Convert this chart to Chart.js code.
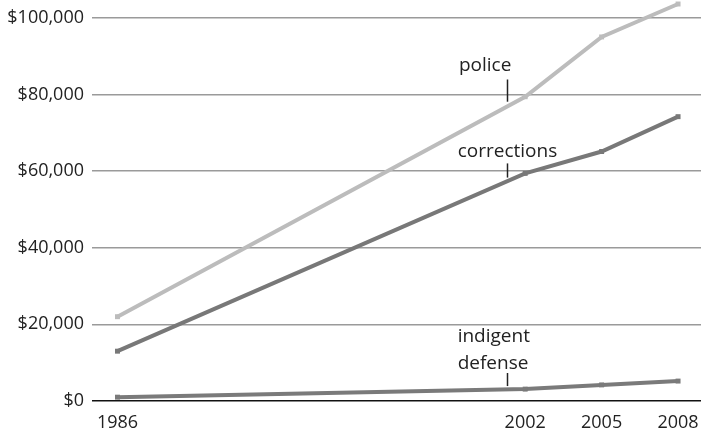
<!DOCTYPE html>
<html>
<head>
<meta charset="utf-8">
<script src="https://cdn.jsdelivr.net/npm/chart.js@4"></script>
<style>
  html, body { margin: 0; padding: 0; background: #fff; }
  #wrap { width: 705px; height: 436px; }
</style>
</head>
<body>
<div id="wrap"><canvas id="c" width="705" height="436"></canvas></div>
<script>
const years = [1986, 2002, 2005, 2008];
const police = [22000, 79400, 95000, 103600];
const corrections = [13000, 59400, 65100, 74200];
const indigentDefense = [1000, 3100, 4200, 5200];
const yTicks = [0, 20000, 40000, 60000, 80000, 100000];
const seriesNames = ['police', 'corrections', 'indigent defense'];

const FONT = '"Open Sans", Lato, sans-serif';

function pts(vals) { return years.map((y, i) => ({ x: y, y: vals[i] })); }

// label annotations: text lines, tick x (year), tick bottom/top values, text x (year), text centre values
const notes = [
  { lines: ['police'], tickX: 2001.3, tickFrom: 78100, tickTo: 83900, textX: 1999.4, textY: [87500] },
  { lines: ['corrections'], tickX: 2001.3, tickFrom: 58300, tickTo: 62000, textX: 1999.35, textY: [65100] },
  { lines: ['indigent', 'defense'], tickX: 2001.3, tickFrom: 3900, tickTo: 7300, textX: 1999.35, textY: [16700, 9700] }
];

const notePlugin = {
  id: 'notes',
  afterDatasetsDraw(chart) {
    const { ctx, scales: { x, y } } = chart;
    ctx.save();
    ctx.font = '19px ' + FONT;
    ctx.fillStyle = '#222';
    ctx.strokeStyle = '#222';
    ctx.lineWidth = 1.5;
    ctx.textAlign = 'left';
    ctx.textBaseline = 'middle';
    notes.forEach(n => {
      const tx = Math.round(x.getPixelForValue(n.tickX)) + 0.5;
      ctx.beginPath();
      ctx.moveTo(tx, y.getPixelForValue(n.tickFrom));
      ctx.lineTo(tx, y.getPixelForValue(n.tickTo));
      ctx.stroke();
      n.lines.forEach((t, i) => {
        ctx.fillText(t, x.getPixelForValue(n.textX), y.getPixelForValue(n.textY[i]));
      });
    });
    ctx.restore();
  }
};

function ds(label, vals, color, w) {
  return {
    label, data: pts(vals),
    borderColor: color, backgroundColor: color,
    borderWidth: w, pointStyle: 'rect', pointRadius: 3.5,
    pointBorderWidth: 0, tension: 0, clip: false
  };
}

function noPad(axis) {
  axis.paddingTop = 0; axis.paddingBottom = 0;
  axis.paddingLeft = 0; axis.paddingRight = 0;
}

new Chart(document.getElementById('c'), {
  type: 'line',
  data: {
    datasets: [
      ds(seriesNames[0], police, '#bcbcbc', 4),
      ds(seriesNames[1], corrections, '#787878', 4),
      ds(seriesNames[2], indigentDefense, '#7a7a7a', 4)
    ]
  },
  options: {
    responsive: false,
    animation: false,
    layout: { padding: 0 },
    plugins: { legend: { display: false }, tooltip: { enabled: false } },
    scales: {
      x: {
        type: 'linear', min: 1985, max: 2008.9,
        afterBuildTicks(axis) { axis.ticks = years.map(v => ({ value: v })); },
        afterFit(axis) { axis.height = 35; noPad(axis); },
        grid: { display: false, drawTicks: false },
        border: { display: false },
        ticks: { color: '#222', font: { family: FONT, size: 18 }, padding: 11, maxRotation: 0, autoSkip: false,
          callback: v => String(v) }
      },
      y: {
        min: 0, max: 103600,
        afterBuildTicks(axis) { axis.ticks = yTicks.map(v => ({ value: v })); },
        afterFit(axis) { axis.width = 92; noPad(axis); },
        grid: {
          drawTicks: false,
          color: c => c.tick && c.tick.value === 0 ? '#111' : '#9a9a9a',
          lineWidth: 1.5
        },
        border: { display: false },
        ticks: { color: '#222', font: { family: FONT, size: 18 }, padding: 8,
          callback: v => '$' + Number(v).toLocaleString('en-US') }
      }
    }
  },
  plugins: [notePlugin]
});
</script>
</body>
</html>
